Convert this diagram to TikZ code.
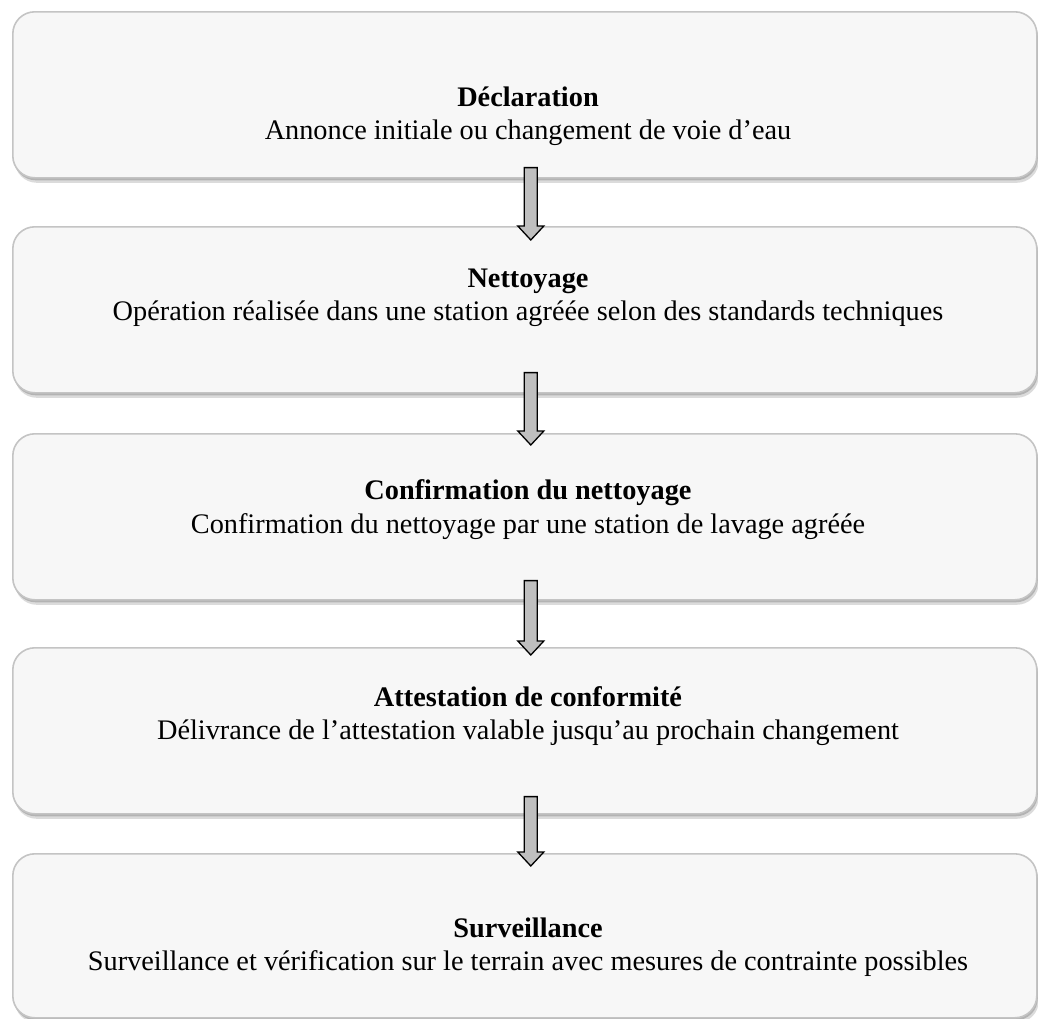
\documentclass[tikz,border=0pt]{standalone}
\usepackage{fontspec}
\setmainfont{Liberation Serif}
\usetikzlibrary{shadows,calc}
\definecolor{boxfill}{HTML}{F7F7F7}
\definecolor{boxline}{HTML}{C4C4C4}
\definecolor{arrowfill}{HTML}{BFBFBF}
\begin{document}
\begin{tikzpicture}[x=1pt,y=-1pt,
  stepbox/.style={draw=boxline, line width=1.6pt, fill=boxfill, rounded corners=22pt,
    minimum width=1024pt, minimum height=166pt, inner sep=0pt, anchor=north west,
    drop shadow={shadow xshift=1pt, shadow yshift=-2.5pt, fill=black, opacity=0.18},
    drop shadow={shadow xshift=2pt, shadow yshift=-5pt, fill=black, opacity=0.14}},
  titletext/.style={font=\fontsize{28.3}{34}\selectfont\bfseries, anchor=base},
  subtext/.style={font=\fontsize{28.3}{34}\selectfont, anchor=base},
  fatarrow/.style={draw=black, line width=1.3pt, fill=arrowfill, line join=miter,
    to path={let \p1=(\tikztostart), \p2=(\tikztotarget) in
      (\x1-6.5pt,\y1) -- (\x1+6.5pt,\y1) -- (\x1+6.5pt,\y2+14pt) -- (\x1+13pt,\y2+14pt)
      -- (\x1,\y2) -- (\x1-13pt,\y2+14pt) -- (\x1-6.5pt,\y2+14pt) -- cycle}}
]
\useasboundingbox (0,0) rectangle (1038,1018);
\node[stepbox] (b1) at (12,11) {};
\node[stepbox] (b2) at (12,226) {};
\node[stepbox] (b3) at (12,433) {};
\node[stepbox] (b4) at (12,647) {};
\node[stepbox, minimum height=164pt] (b5) at (12,853) {};

\node[titletext] (t1) at (528,106) {Déclaration};
\node[subtext] (s1) at (528,139) {Annonce initiale ou changement de voie d’eau};
\node[titletext] (t2) at (528,287) {Nettoyage};
\node[subtext] (s2) at (528,320) {Opération réalisée dans une station agréée selon des standards techniques};
\node[titletext] (t3) at (528,499) {Confirmation du nettoyage};
\node[subtext] (s3) at (528,533) {Confirmation du nettoyage par une station de lavage agréée};
\node[titletext] (t4) at (528,706) {Attestation de conformité};
\node[subtext] (s4) at (528,739) {Délivrance de l’attestation valable jusqu’au prochain changement};
\node[titletext] (t5) at (528,937) {Surveillance};
\node[subtext] (s5) at (528,970) {Surveillance et vérification sur le terrain avec mesures de contrainte possibles};

\draw[fatarrow] ($(b1.south)+(6,-11)$) to ($(b2.north)+(6,14)$);
\draw[fatarrow] ($(b2.south)+(6,-21)$) to ($(b3.north)+(6,12)$);
\draw[fatarrow] ($(b3.south)+(6,-20)$) to ($(b4.north)+(6,8)$);
\draw[fatarrow] ($(b4.south)+(6,-18)$) to ($(b5.north)+(6,13)$);
\end{tikzpicture}
\end{document}
